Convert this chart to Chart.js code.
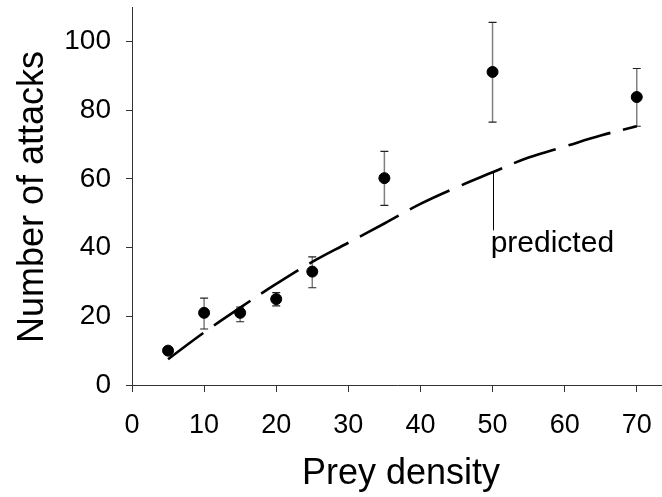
<!DOCTYPE html>
<html>
<head>
<meta charset="utf-8">
<script src="https://cdn.jsdelivr.net/npm/chart.js@4/dist/chart.umd.min.js"></script>
<style>
  html, body { margin: 0; padding: 0; background: #fff; }
  #wrap { width: 662px; height: 497px; }
</style>
</head>
<body>
<div id="wrap"><canvas id="c" width="662" height="497"></canvas></div>
<script>
// Observed data
const preyDensity = [5, 10, 15, 20, 25, 35, 50, 70];
const attacks     = [10, 21, 21, 25, 33, 60.2, 91.1, 83.8];
const errLow      = [9.2, 16.3, 18.4, 23.0, 28.3, 52.3, 76.5, 75.3];
const errHigh     = [10.8, 25.3, 22.7, 26.9, 37.3, 68.0, 105.5, 92.1];

// Predicted curve
const predX = [5, 10, 15, 20, 25, 30, 35, 40, 45, 50, 55, 60, 65, 70];
const predY = [7.5, 15.3, 22.5, 29.4, 35.8, 41.4, 47.0, 52.7, 57.5, 61.9, 66.2, 69.4, 72.6, 75.3];

const xTicks = [0, 10, 20, 30, 40, 50, 60, 70];
const yTicks = [0, 20, 40, 60, 80, 100];

const labelPoint = { x: 50, yTop: 61.9, yBottom: 45, textX: 49.6, textY: 38.7, text: 'predicted' };
const xTitle = 'Prey density';
const yTitle = 'Number of attacks';

const FONT = '"Liberation Sans", Arial, sans-serif';

const errorBars = {
  id: 'errorBars',
  beforeDatasetsDraw(chart) {
    const { ctx, scales: { x, y } } = chart;
    ctx.save();
    preyDensity.forEach((d, i) => {
      const px = x.getPixelForValue(d);
      const top = y.getPixelForValue(errHigh[i]);
      const bot = y.getPixelForValue(errLow[i]);
      ctx.strokeStyle = '#7f7f7f';
      ctx.lineWidth = 1.5;
      ctx.beginPath();
      ctx.moveTo(px, top); ctx.lineTo(px, bot);
      ctx.stroke();
      ctx.strokeStyle = '#222';
      ctx.lineWidth = 1.2;
      ctx.beginPath();
      ctx.moveTo(px - 4, top); ctx.lineTo(px + 4, top);
      ctx.moveTo(px - 4, bot); ctx.lineTo(px + 4, bot);
      ctx.stroke();
    });
    ctx.restore();
  },
  afterDatasetsDraw(chart) {
    const { ctx, scales: { x, y } } = chart;
    ctx.save();
    const lx = x.getPixelForValue(labelPoint.x);
    ctx.strokeStyle = '#000';
    ctx.lineWidth = 1;
    ctx.beginPath();
    ctx.moveTo(Math.round(lx) + 0.5, y.getPixelForValue(labelPoint.yTop));
    ctx.lineTo(Math.round(lx) + 0.5, y.getPixelForValue(labelPoint.yBottom));
    ctx.stroke();
    ctx.fillStyle = '#000';
    ctx.font = '30px ' + FONT;
    ctx.textAlign = 'left';
    ctx.textBaseline = 'alphabetic';
    ctx.fillText(labelPoint.text, x.getPixelForValue(labelPoint.textX) + 1, y.getPixelForValue(labelPoint.textY));
    // axis titles
    ctx.font = '36px ' + FONT;
    ctx.textAlign = 'center';
    ctx.fillText(xTitle, 401, 484);
    ctx.translate(43, 197);
    ctx.rotate(-Math.PI / 2);
    ctx.fillText(yTitle, 0, 0);
    ctx.restore();
  }
};

new Chart(document.getElementById('c'), {
  type: 'scatter',
  data: {
    datasets: [
      {
        type: 'line',
        label: 'predicted',
        data: predX.map((v, i) => ({ x: v, y: predY[i] })),
        borderColor: '#000',
        borderWidth: 2.6,
        borderDash: [44, 13],
        pointRadius: 0,
        tension: 0.4,
        fill: false,
        order: 2
      },
      {
        label: 'observed',
        data: preyDensity.map((v, i) => ({ x: v, y: attacks[i] })),
        backgroundColor: '#000',
        borderColor: '#000',
        pointRadius: 5.5,
        order: 1
      }
    ]
  },
  plugins: [errorBars],
  options: {
    responsive: false,
    animation: false,
    events: [],
    layout: { autoPadding: false, padding: { top: 7, right: 0, left: 0, bottom: 0 } },
    plugins: { legend: { display: false }, tooltip: { enabled: false } },
    scales: {
      x: {
        type: 'linear',
        min: 0, max: 73.5,
        afterFit(s) { s.height = 112; s.paddingLeft = 0; s.paddingRight = 0; },
        afterBuildTicks(s) { s.ticks = xTicks.map(v => ({ value: v })); },
        border: { display: true, color: '#333', width: 1 },
        grid: { display: true, drawOnChartArea: false, drawTicks: true, tickLength: 7, color: '#333' },
        ticks: { color: '#000', font: { family: FONT, size: 27 }, padding: 17, maxRotation: 0 }
      },
      y: {
        type: 'linear',
        min: 0, max: 110,
        afterFit(s) { s.width = 132; s.paddingTop = 0; s.paddingBottom = 0; },
        afterBuildTicks(s) { s.ticks = yTicks.map(v => ({ value: v })); },
        border: { display: true, color: '#333', width: 1 },
        grid: { display: true, drawOnChartArea: false, drawTicks: true, tickLength: 6, color: '#333' },
        ticks: { color: '#000', font: { family: FONT, size: 28 }, padding: 15 }
      }
    }
  }
});
</script>
</body>
</html>
